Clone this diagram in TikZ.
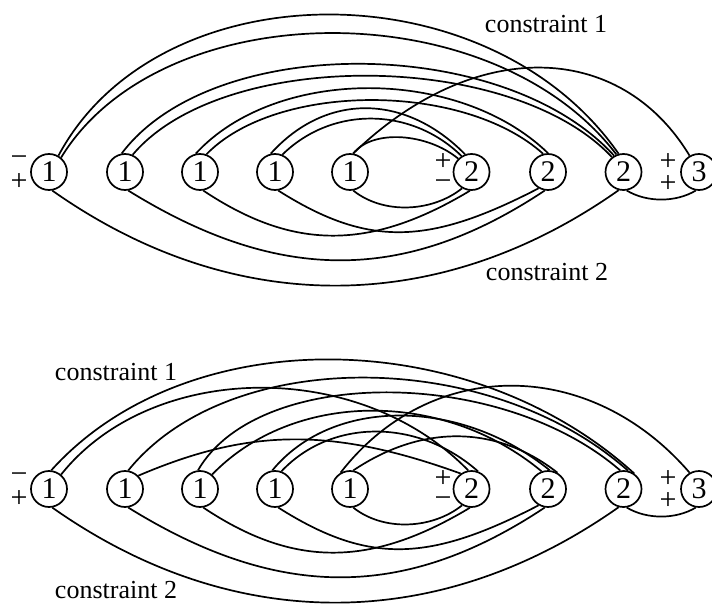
\documentclass[tikz,border=0pt]{standalone}
\usepackage{fontspec}
\setmainfont{Liberation Serif}
% arc above the row: start, end, start pull, end pull, height of the pull
\newcommand\arcover[5]{\draw (#1) .. controls +(#3,-#5) and +(-#4,-#5) .. (#2);}
% arc below the row
\newcommand\arcunder[5]{\draw (#1) .. controls +(#3,#5) and +(-#4,#5) .. (#2);}
\begin{document}
\begin{tikzpicture}[x=1pt,y=-1pt,line width=1.7pt,
  vert/.style={circle,draw,minimum size=36pt,inner sep=0pt,font=\fontsize{30}{32}\selectfont},
  sgn/.style={inner sep=0pt,font=\fontsize{30}{30}\selectfont},
  lbl/.style={inner sep=0pt,font=\fontsize{26}{30}\selectfont}]
\useasboundingbox (0,0) rectangle (712,604);

% ---------- upper diagram ----------
\node[vert] (ta1) at (49,172) {1};
\node[vert] (ta2) at (125,172) {1};
\node[vert] (ta3) at (200,172) {1};
\node[vert] (ta4) at (275,172) {1};
\node[vert] (ta5) at (350,172) {1};
\node[vert] (tb1) at (471.5,172) {2};
\node[vert] (tb2) at (548,172) {2};
\node[vert] (tb3) at (623.5,172) {2};
\node[vert] (tc)  at (699,172) {3};

\node[sgn] (ts1) at (19,161) {−};
\node[sgn] (ts2) at (19,182) {+};
\node[sgn] (ts3) at (443,162) {+};
\node[sgn] (ts4) at (443,185) {−};
\node[sgn] (ts5) at (668,162) {+};
\node[sgn] (ts6) at (668,184) {+};

\node[lbl] (tl1) at (546,24) {constraint 1};
\node[lbl] (tl2) at (547,272) {constraint 2};

% constraint 1
\arcover{ta1.60}{tb3.105}{100}{130}{187}
\arcover{ta1.50}{tb3.112}{100}{125}{164}
\arcover{ta2.100}{tb3.120}{91}{110}{121}
\arcover{ta2.66}{tb3.128}{90}{100}{107}
\arcover{ta3.103}{tb2.90}{80}{90}{87}
\arcover{ta3.70}{tb2.105}{70}{80}{72}
\arcover{ta4.103}{tb1.110}{55}{60}{61}
\arcover{ta4.67}{tb1.122}{50}{50}{49}
\arcover{ta5.80}{tb1.135}{20}{30}{25}
\arcover{ta5.80}{tc.120}{120}{70}{116}
% constraint 2
\arcunder{ta1.-80}{tb3.-105}{180}{180}{127}
\arcunder{ta2.-80}{tb2.-100}{150}{140}{93}
\arcunder{ta3.-80}{tb1.-95}{90}{100}{60}
\arcunder{ta4.-80}{tb2.-120}{90}{110}{57}
\arcunder{ta5.-80}{tb1.-120}{30}{30}{24}
\arcunder{tb3.-80}{tc.-100}{20}{20}{12}

% ---------- lower diagram ----------
\node[vert] (ba1) at (49,489) {1};
\node[vert] (ba2) at (125,489) {1};
\node[vert] (ba3) at (200,489) {1};
\node[vert] (ba4) at (275,489) {1};
\node[vert] (ba5) at (350,489) {1};
\node[vert] (bb1) at (471.5,489) {2};
\node[vert] (bb2) at (548,489) {2};
\node[vert] (bb3) at (623.5,489) {2};
\node[vert] (bc)  at (699,489) {3};

\node[sgn] (bs1) at (19,478) {−};
\node[sgn] (bs2) at (19,499) {+};
\node[sgn] (bs3) at (443,479) {+};
\node[sgn] (bs4) at (443,502) {−};
\node[sgn] (bs5) at (668,479) {+};
\node[sgn] (bs6) at (668,501) {+};

\node[lbl] (bl1) at (116,372) {constraint 1};
\node[lbl] (bl2) at (116,590) {constraint 2};

% constraint 1
\arcover{ba1.83}{bb3.55}{135}{165}{150}
\arcover{ba2.80}{bb3.76}{100}{140}{124}
\arcover{ba3.96}{bb3.100}{60}{120}{104}
\arcover{ba1.50}{bb1.100}{90}{110}{113}
\arcover{ba2.45}{bb1.125}{110}{130}{47}
\arcover{ba3.50}{bb2.110}{80}{100}{83}
\arcover{ba4.98}{bb2.85}{60}{90}{73}
\arcover{ba4.70}{bb1.70}{50}{60}{53}
\arcover{ba5.80}{bb2.60}{70}{60}{47}
\arcover{ba5.120}{bc.120}{90}{100}{116}
% constraint 2
\arcunder{ba1.-80}{bb3.-105}{180}{180}{127}
\arcunder{ba2.-80}{bb2.-100}{150}{140}{93}
\arcunder{ba3.-80}{bb1.-95}{90}{100}{60}
\arcunder{ba4.-80}{bb2.-120}{90}{110}{57}
\arcunder{ba5.-80}{bb1.-120}{30}{30}{24}
\arcunder{bb3.-80}{bc.-100}{20}{20}{12}
\end{tikzpicture}
\end{document}
